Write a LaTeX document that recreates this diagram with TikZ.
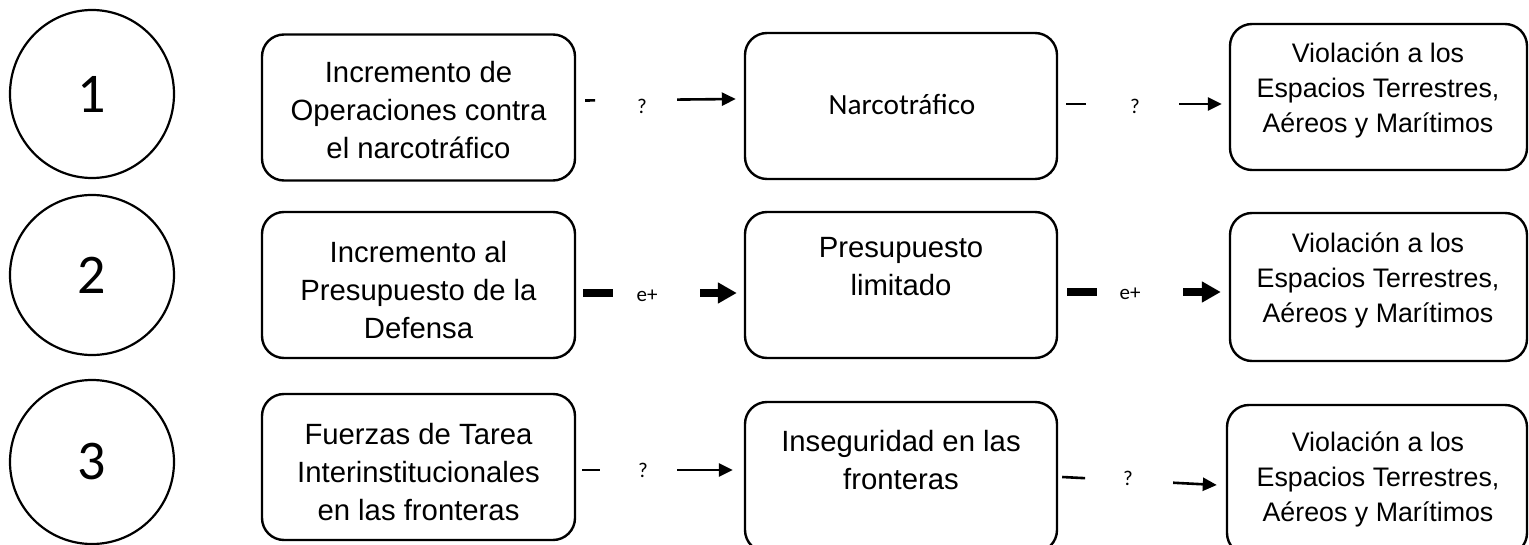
\documentclass[tikz,border=0pt]{standalone}
\usepackage{fontspec}
\setmainfont{Liberation Sans}
\newfontfamily\calib{Carlito}
\usetikzlibrary{shapes.geometric,arrows.meta}
\begin{document}
\begin{tikzpicture}[x=1pt,y=-1pt,
  box/.style={draw, line width=2.4pt, rounded corners=22pt, minimum width=313pt, minimum height=146pt, inner sep=0pt},
  oval/.style={draw, ellipse, line width=2.2pt, minimum width=164pt, inner sep=0pt, font=\calib\fontsize{56}{56}\selectfont},
  btxt/.style={align=center, inner sep=0pt, font=\fontsize{29.3}{38}\selectfont},
  ctxt/.style={align=center, inner sep=0pt, font=\fontsize{26.8}{35}\selectfont},
  lab/.style={inner sep=0pt, font=\calib\fontsize{21}{21}\selectfont},
  thinconn/.style={line width=2.6pt, -{Triangle[length=14pt,width=13pt]}},
  thickconn/.style={line width=7.5pt, -{Triangle[length=19pt,width=20pt]}}]
\clip (0,0) rectangle (1529,545);
% numbered ovals
\node[oval, minimum height=168pt] (n1) at (92,94) {1};
\node[oval, minimum height=160pt] (n2) at (92,275) {2};
\node[oval, minimum height=164pt] (n3) at (92,462) {3};
% boxes
\node[box] (A1) at (418.5,107.5) {};
\node[box] (A2) at (418.5,285) {};
\node[box] (A3) at (418.5,467) {};
\node[box, minimum width=312pt] (B1) at (901,106) {};
\node[box, minimum width=312pt] (B2) at (901,285) {};
\node[box, minimum width=312pt, minimum height=150pt] (B3) at (901,477) {};
\node[box, minimum width=297pt] (C1) at (1378.5,97) {};
\node[box, minimum width=297pt, minimum height=148pt] (C2) at (1378.5,287) {};
\node[box, minimum width=300pt, minimum height=150pt] (C3) at (1377,480) {};
% texts
\node[btxt] (A1t) at (418.5,110) {Incremento de\\Operaciones contra\\el narcotráfico};
\node[btxt] (A2t) at (418.5,290) {Incremento al\\Presupuesto de la\\Defensa};
\node[btxt] (A3t) at (418.5,472) {Fuerzas de Tarea\\Interinstitucionales\\en las fronteras};
\node[btxt, font=\calib\fontsize{29.3}{38}\selectfont] (B1t) at (902,104) {Narcotráfico};
\node[btxt] (B2t) at (901,267) {Presupuesto\\limitado};
\node[btxt] (B3t) at (901,460) {Inseguridad en las\\fronteras};
\node[ctxt] (C1t) at (1378,90) {Violación a los\\Espacios Terrestres,\\Aéreos y Marítimos};
\node[ctxt] (C2t) at (1378,280) {Violación a los\\Espacios Terrestres,\\Aéreos y Marítimos};
\node[ctxt] (C3t) at (1378,479) {Violación a los\\Espacios Terrestres,\\Aéreos y Marítimos};
% connectors
\draw[thinconn, dash pattern=on 10pt off 82pt on 300pt] ([shift={(9,-7)}]A1.east) -- ([shift={(-8,-7)}]B1.west);
\draw[thinconn, dash pattern=on 20pt off 93pt on 300pt] ([shift={(8,-2)}]B1.east) -- ([shift={(-7,7)}]C1.west);
\draw[thickconn, dash pattern=on 30pt off 87pt on 300pt] ([shift={(7,8)}]A2.east) -- ([shift={(-7,8)}]B2.west);
\draw[thickconn, dash pattern=on 30pt off 86pt on 300pt] ([shift={(9,7)}]B2.east) -- ([shift={(-8,5)}]C2.west);
\draw[thinconn, dash pattern=on 18pt off 77pt on 300pt] ([shift={(6,3)}]A3.east) -- ([shift={(-11,-7)}]B3.west);
\draw[thinconn, dash pattern=on 23pt off 88pt on 300pt] ([shift={(4,0)}]B3.east) -- ([shift={(-9,5)}]C3.west);
% labels
\node[lab] (l1a) at (642,106) {?};
\node[lab] (l1b) at (1135,106) {?};
\node[lab] (l2a) at (647,296) {e+};
\node[lab] (l2b) at (1130,294) {e+};
\node[lab] (l3a) at (643,470) {?};
\node[lab] (l3b) at (1128,478) {?};
\end{tikzpicture}
\end{document}
